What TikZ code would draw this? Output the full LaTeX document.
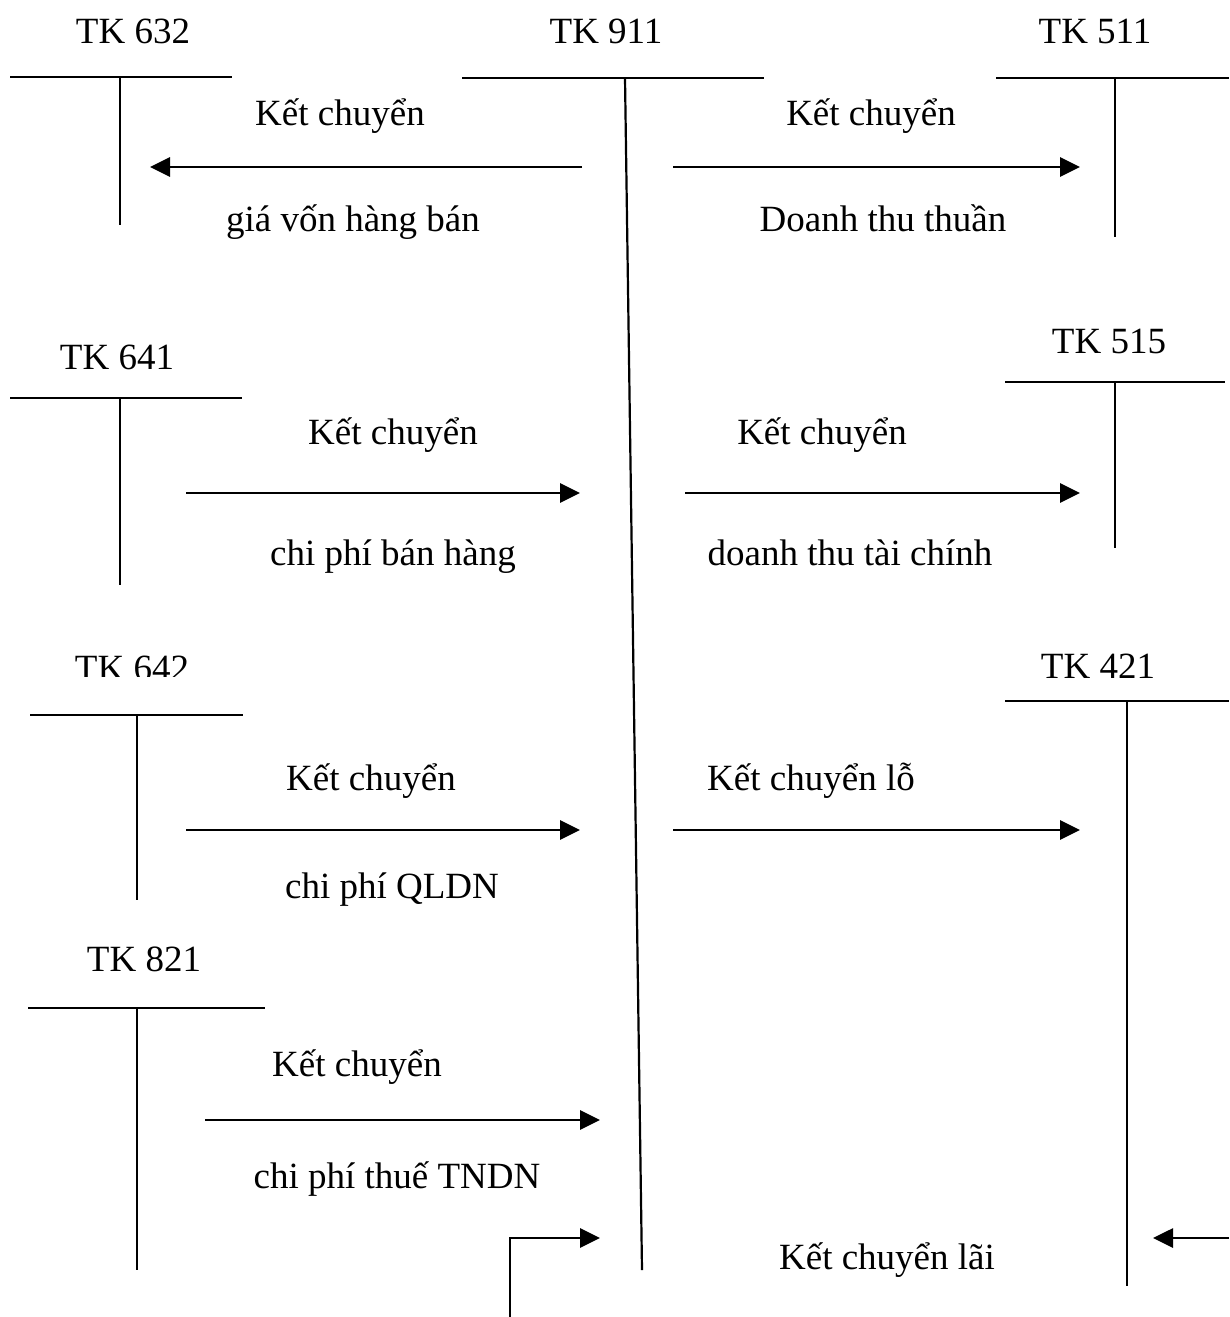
\documentclass[tikz,border=0pt]{standalone}
\usepackage{fontspec}
\setmainfont{Liberation Serif}
\usetikzlibrary{arrows.meta}
\begin{document}
\begin{tikzpicture}[x=1pt,y=-1pt,
  lbl/.style={anchor=base,inner sep=0pt,font=\fontsize{37}{41}\selectfont},
  tline/.style={line width=2.6pt},
  vline/.style={line width=2.2pt},
  flow/.style={line width=2.8pt,-{Triangle[length=20pt,width=19pt]}}]
\useasboundingbox (0,0) rectangle (1229,1317);

% ---- T-accounts: titles, top rules, stems ----
\node[lbl] (t632) at (133,43) {TK 632};
\draw[tline] (10,77) -- (232,77);
\draw[vline] (120,77) -- (120,225);

\node[lbl] (t911) at (606,43) {TK 911};
\draw[tline] (462,78) -- (764,78);
\draw[vline] (625,78) -- (642,1270);

\node[lbl] (t511) at (1095,43) {TK 511};
\draw[tline] (996,78) -- (1229,78);
\draw[vline] (1115,78) -- (1115,237);

\node[lbl] (t641) at (117,369) {TK 641};
\draw[tline] (10,398) -- (242,398);
\draw[vline] (120,398) -- (120,585);

\node[lbl] (t515) at (1109,353) {TK 515};
\draw[tline] (1005,382) -- (1225,382);
\draw[vline] (1115,382) -- (1115,548);

\begin{scope}
  \clip (0,600) rectangle (400,676);
  \node[lbl] (t642) at (132,680) {TK 642};
\end{scope}
\draw[tline] (30,715) -- (243,715);
\draw[vline] (137,715) -- (137,900);

\node[lbl] (t421) at (1098,678) {TK 421};
\draw[tline] (1005,701) -- (1229,701);
\draw[vline] (1127,701) -- (1127,1286);

\node[lbl] (t821) at (144,971) {TK 821};
\draw[tline] (28,1008) -- (265,1008);
\draw[vline] (137,1008) -- (137,1270);

% ---- transfer arrows ----
\coordinate (a1s) at (582,167); \coordinate (a1e) at (150,167);
\coordinate (a2s) at (673,167); \coordinate (a2e) at (1080,167);
\coordinate (a3s) at (186,493); \coordinate (a3e) at (580,493);
\coordinate (a4s) at (685,493); \coordinate (a4e) at (1080,493);
\coordinate (a5s) at (186,830); \coordinate (a5e) at (580,830);
\coordinate (a6s) at (673,830); \coordinate (a6e) at (1080,830);
\coordinate (a7s) at (205,1120); \coordinate (a7e) at (600,1120);
\coordinate (a8s) at (510,1317); \coordinate (a8k) at (510,1238); \coordinate (a8e) at (600,1238);
\coordinate (a9s) at (1229,1238); \coordinate (a9e) at (1153,1238);

\draw[flow] (a1s) -- (a1e);
\draw[flow] (a2s) -- (a2e);
\draw[flow] (a3s) -- (a3e);
\draw[flow] (a4s) -- (a4e);
\draw[flow] (a5s) -- (a5e);
\draw[flow] (a6s) -- (a6e);
\draw[flow] (a7s) -- (a7e);
\draw[flow] (a8s) -- (a8k) -- (a8e);
\draw[flow] (a9s) -- (a9e);

% ---- arrow captions ----
\node[lbl] (k1) at (340,125) {Kết chuyển};
\node[lbl] (k2) at (871,125) {Kết chuyển};
\node[lbl] (c1) at (353,231) {giá vốn hàng bán};
\node[lbl] (c2) at (883,231) {Doanh thu thuần};

\node[lbl] (k3) at (393,444) {Kết chuyển};
\node[lbl] (k4) at (822,444) {Kết chuyển};
\node[lbl] (c3) at (393,565) {chi phí bán hàng};
\node[lbl] (c4) at (850,565) {doanh thu tài chính};

\node[lbl] (k5) at (371,790) {Kết chuyển};
\node[lbl] (k6) at (811,790) {Kết chuyển lỗ};
\node[lbl] (c5) at (392,898) {chi phí QLDN};

\node[lbl] (k7) at (357,1076) {Kết chuyển};
\node[lbl] (c7) at (397,1188) {chi phí thuế TNDN};

\node[lbl] (k8) at (887,1269) {Kết chuyển lãi};
\end{tikzpicture}
\end{document}
